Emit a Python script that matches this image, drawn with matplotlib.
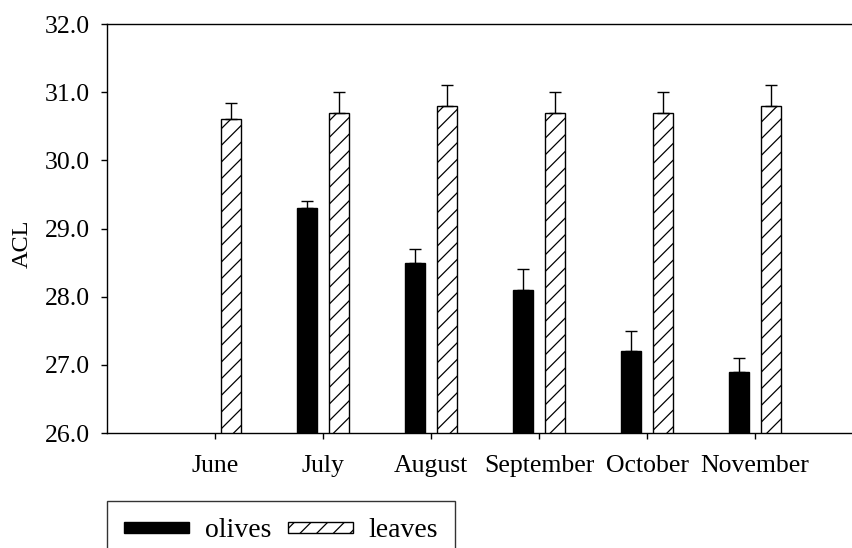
import numpy as np
import matplotlib
matplotlib.use("Agg")
import matplotlib.pyplot as plt

# --- data ---
months = ["June", "July", "August", "September", "October", "November"]
olives = [np.nan, 29.3, 28.5, 28.1, 27.2, 26.9]
olives_err = [np.nan, 0.1, 0.2, 0.3, 0.3, 0.2]
leaves = [30.6, 30.7, 30.8, 30.7, 30.7, 30.8]
leaves_err = [0.24, 0.3, 0.3, 0.3, 0.3, 0.3]

plt.rcParams['font.family'] = ['Liberation Serif', 'DejaVu Serif']
plt.rcParams['hatch.linewidth'] = 0.9

fig = plt.figure(figsize=(8.53, 5.48), dpi=100)
ax = fig.add_axes([107 / 853, 1 - 433 / 548, 1 - 107 / 853, (433 - 24) / 548])

x = np.arange(len(months))
w = 0.185
off = 0.148

ol = np.array(olives)
ole = np.array(olives_err)
m = ~np.isnan(ol)

ax.bar(x[m] - off, ol[m], width=w, color='black', edgecolor='black', lw=1, label='olives')
ax.errorbar(x[m] - off, ol[m], yerr=[np.zeros(m.sum()), ole[m]], fmt='none',
            ecolor='black', elinewidth=1, capsize=4, capthick=1)

ax.bar(x + off, leaves, width=w, color='white', edgecolor='black', lw=1, hatch='//',
       label='leaves')
ax.errorbar(x + off, leaves, yerr=[np.zeros(len(leaves)), leaves_err], fmt='none',
            ecolor='black', elinewidth=1, capsize=4, capthick=1)

ax.set_ylim(26, 32)
ax.set_xlim(-1.0, 5.907)
ax.set_yticks(np.arange(26, 32.1, 1.0))
ax.set_yticklabels([f"{v:.1f}" for v in np.arange(26, 32.1, 1.0)])
ax.set_xticks(x)
ax.set_xticklabels(months)
ax.tick_params(axis='both', direction='out', length=4, width=1, labelsize=18.5)
ax.tick_params(axis='y', pad=8)
ax.tick_params(axis='x', pad=12)
ax.spines['right'].set_visible(False)
for s in ['left', 'top', 'bottom']:
    ax.spines[s].set_linewidth(1)

ax.set_ylabel("ACL", fontsize=17.5)
ax.yaxis.set_label_coords(-0.10, 0.462)

leg = fig.legend(loc='upper left', bbox_to_anchor=(107 / 853, 1 - 501 / 548),
                 ncol=2, fontsize=20, frameon=True, fancybox=False,
                 handlelength=2.35, handleheight=0.25, handletextpad=0.55,
                 columnspacing=0.6, borderpad=0.62, borderaxespad=0)
leg.get_frame().set_edgecolor('black')
leg.get_frame().set_linewidth(1)

fig.savefig("out.png", dpi=100)
